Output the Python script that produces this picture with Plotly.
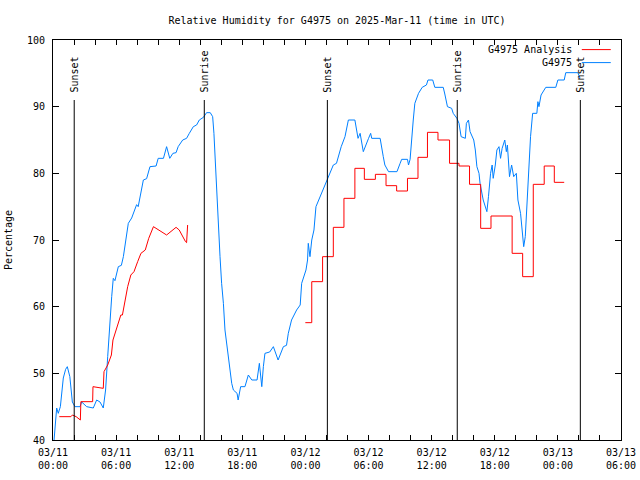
import pandas as pd
import plotly.graph_objects as go

BASE = pd.Timestamp("2025-03-11 00:00")

# G4975 observations: hours since 03/11 00:00 UTC, relative humidity (%)
obs_hours = [0.10, 0.35, 0.50, 0.70, 0.98, 1.20, 1.36, 1.60, 1.84, 2.09, 2.57, 2.73, 3.20, 3.83, 4.15, 4.47,
             4.78, 5.00, 5.20, 5.42, 5.58, 5.73, 5.89, 6.21, 6.50, 6.69, 6.94, 7.16, 7.48, 7.80, 7.95, 8.10,
             8.33, 8.59, 8.90, 9.22, 9.80, 10.00, 10.50, 10.80, 11.10, 11.40, 11.70, 11.90, 12.33, 12.70,
             12.96, 13.34, 13.65, 13.91, 14.30, 14.60, 14.95, 15.18, 15.30, 15.40, 15.56, 15.72, 15.88,
             16.03, 16.20, 16.35, 16.50, 16.67, 16.83, 16.99, 17.15, 17.50, 17.60, 17.84, 18.25, 18.57,
             18.90, 19.40, 19.62, 19.85, 20.00, 20.15, 20.60, 20.95, 21.40, 21.90, 22.20, 22.37, 22.68,
             23.16, 23.50, 23.64, 24.05, 24.20, 24.27, 24.43, 24.60, 24.81, 25.00, 25.20, 25.54, 25.86,
             26.08, 26.30, 26.65, 26.95, 27.20, 27.40, 27.76, 28.08, 28.70, 28.87, 29.00, 29.20, 29.50,
             30.00, 30.20, 30.30, 31.10, 31.40, 31.55, 31.90, 32.70, 33.00, 33.15, 33.70, 33.80, 33.95,
             34.10, 34.25, 34.40, 34.75, 35.10, 35.50, 35.65, 36.10, 36.30, 37.10, 37.25, 37.50, 37.90,
             38.05, 38.40, 38.60, 38.80, 39.20, 39.30, 39.50, 39.65, 40.00, 40.15, 40.30, 40.50, 40.60,
             40.90, 41.10, 41.25, 41.40, 41.60, 41.75, 41.85, 42.05, 42.20, 42.40, 42.55, 42.70, 42.95,
             43.10, 43.20, 43.40, 43.60, 43.80, 44.05, 44.20, 44.45, 44.60, 44.75, 44.90, 45.10, 45.25,
             45.40, 45.60, 46.00, 46.10, 46.20, 46.40, 46.85, 47.80, 48.00, 48.60, 48.75, 49.90, 50.10]
obs_values = [40.0, 44.8, 44.0, 45.0, 49.3, 50.6, 51.0, 49.5, 45.7, 45.0, 45.0, 45.7, 45.0, 44.8, 46.0, 45.7,
              44.8, 47.5, 52.5, 58.5, 61.5, 64.25, 63.9, 66.0, 66.2, 67.5, 70.0, 72.5, 73.3, 74.5, 75.3, 75.0,
              77.0, 79.0, 79.2, 81.0, 81.1, 82.25, 82.25, 84.0, 82.25, 83.0, 83.1, 84.0, 85.0, 85.25,
              86.0, 87.0, 87.25, 88.0, 88.4, 89.1, 89.1, 88.5, 86.0, 82.5, 78.5, 72.5, 67.5,
              63.5, 60.5, 56.5, 54.5, 52.5, 50.5, 48.5, 47.5, 47.0, 46.0, 48.0, 48.0, 49.75,
              49.0, 49.0, 51.5, 48.0, 51.0, 53.0, 53.2, 54.0, 52.0, 54.0, 54.2, 56.0, 58.0,
              59.5, 60.25, 63.5, 65.5, 67.0, 69.5, 67.5, 70.0, 71.5, 75.0, 75.75, 77.0, 78.25,
              79.0, 80.0, 81.25, 81.5, 83.0, 84.0, 85.5, 88.0, 88.0, 86.0, 85.25, 86.0, 83.25,
              85.25, 86.0, 85.25, 85.25, 82.5, 81.25, 80.25, 80.25, 81.5, 82.1, 82.1, 81.25, 82.1,
              84.5, 88.0, 90.5, 92.0, 92.9, 93.25, 94.0, 94.0, 92.9, 92.9, 91.9, 90.0, 89.75,
              89.0, 88.25, 87.5, 85.5, 85.25, 87.5, 88.0, 86.25, 85.0, 83.5, 81.0, 80.0, 78.5,
              76.0, 74.75, 74.25, 76.5, 80.0, 81.25, 79.25, 81.25, 83.5, 84.0, 82.25, 83.75, 85.0,
              83.25, 84.25, 79.5, 81.25, 79.5, 80.0, 76.0, 74.0, 71.5, 69.0, 70.5, 77.5, 82.5,
              85.5, 89.0, 89.0, 90.75, 90.0, 91.75, 92.9, 92.9, 94.0, 94.0, 95.1, 95.1, 94.3]

# G4975 Analysis, first run (hours, %)
ana1_hours = [0.60, 1.70, 1.85, 2.20, 2.60, 2.65, 3.77, 3.80, 4.78, 4.85, 5.20, 5.55, 5.70, 6.00, 6.30, 6.45,
              6.60, 6.90, 7.10, 7.40, 7.70, 8.05, 8.36, 8.77, 9.10, 9.55, 10.10, 10.80, 11.70, 12.00, 12.60,
              12.70, 12.80]
ana1_values = [43.5, 43.5, 43.75, 43.5, 43.0, 45.75, 45.75, 48.0, 47.75, 50.25, 51.25, 52.75, 55.0, 56.5, 58.0,
               58.75, 58.75, 61.5, 63.0, 64.75, 65.25, 66.75, 68.0, 68.5, 70.25, 72.0, 71.5, 70.75, 71.9, 71.5,
               69.75, 69.6, 72.25]

# G4975 Analysis, second run (stepped)
ana2_hours = [23.99, 24.60, 25.63, 26.65, 27.66, 28.70, 29.60, 30.65, 31.66, 32.67, 33.70, 34.70, 35.60,
              36.60, 37.70, 38.60, 39.60, 40.66, 41.64, 43.65, 44.65, 45.66, 46.70, 47.66, 48.60]
ana2_values = [57.6, 63.75, 67.5, 71.9, 76.25, 80.75, 79.1, 79.85, 78.15, 77.35, 79.25, 82.4, 86.15,
               85.0, 81.5, 81.1, 78.35, 71.75, 73.6, 68.0, 64.5, 78.35, 81.1, 78.65, 78.65]

sun_labels = ["Sunset", "Sunrise", "Sunset", "Sunrise", "Sunset"]
sun_times = ["2025-03-11 02:01", "2025-03-11 14:23", "2025-03-12 02:05", "2025-03-12 14:26", "2025-03-13 02:08"]

tick_hours = [0, 6, 12, 18, 24, 30, 36, 42, 48, 54]
tick_labels = ["03/11<br>00:00", "03/11<br>06:00", "03/11<br>12:00", "03/11<br>18:00", "03/12<br>00:00",
               "03/12<br>06:00", "03/12<br>12:00", "03/12<br>18:00", "03/13<br>00:00", "03/13<br>06:00"]


def to_time(hours):
    return [BASE + pd.Timedelta(hours=h) for h in hours]


FONT = "DejaVu Sans Mono"
BLUE = "#0080FF"
RED = "#FF0000"

fig = go.Figure()
fig.add_trace(go.Scatter(x=to_time(obs_hours), y=obs_values, mode="lines", name="G4975",
                         line=dict(color=BLUE, width=1), showlegend=False))
fig.add_trace(go.Scatter(x=to_time(ana1_hours), y=ana1_values, mode="lines", name="G4975 Analysis",
                         line=dict(color=RED, width=1), showlegend=False))
fig.add_trace(go.Scatter(x=to_time(ana2_hours), y=ana2_values, mode="lines", name="G4975 Analysis",
                         line=dict(color=RED, width=1, shape="hv"), showlegend=False))

for lbl, t in zip(sun_labels, sun_times):
    fig.add_shape(type="line", x0=t, x1=t, y0=40, y1=91.0, xref="x", yref="y",
                  line=dict(color="black", width=1))
    fig.add_annotation(x=t, y=91.85, xref="x", yref="y", text=lbl, textangle=-90, showarrow=False,
                       xanchor="center", yanchor="bottom", font=dict(family=FONT, size=10, color="black"))

# key (top right, text then line sample)
for i, (name, col) in enumerate([("G4975 Analysis", RED), ("G4975", BLUE)]):
    yk = 0.976 - i * 0.0325
    fig.add_annotation(x=0.917, y=yk, xref="paper", yref="paper", text=name, showarrow=False,
                       xanchor="right", yanchor="middle", font=dict(family=FONT, size=10, color="black"))
    fig.add_shape(type="line", x0=0.931, x1=0.982, y0=yk, y1=yk, xref="paper", yref="paper",
                  line=dict(color=col, width=1))

fig.update_layout(
    width=640, height=480,
    margin=dict(l=53, r=19, t=40, b=40, autoexpand=False),
    paper_bgcolor="white", plot_bgcolor="white",
    font=dict(family=FONT, size=10, color="black"),
    title=dict(text="Relative Humidity for G4975 on 2025-Mar-11 (time in UTC)", x=0.5, xref="paper",
               xanchor="center", y=1 - 20 / 480, yanchor="middle", yref="container",
               font=dict(family=FONT, size=10)),
    showlegend=False,
)
fig.update_xaxes(
    type="date", range=[BASE, BASE + pd.Timedelta(hours=54)], automargin=False,
    tickmode="array", tickvals=to_time(tick_hours), ticktext=tick_labels,
    ticks="inside", ticklen=5, tickcolor="black", ticklabelstandoff=3,
    minor=dict(tickmode="linear", tick0=BASE, dtick=2 * 3600 * 1000, ticks="inside", ticklen=5,
               tickcolor="black", showgrid=False),
    showline=True, linecolor="black", linewidth=1, mirror="allticks",
    showgrid=False, zeroline=False, tickfont=dict(family=FONT, size=10),
)
fig.update_yaxes(
    range=[40, 100], tickmode="linear", tick0=40, dtick=10, automargin=False,
    ticks="inside", ticklen=6, tickcolor="black", ticklabelstandoff=5,
    showline=True, linecolor="black", linewidth=1, mirror="allticks",
    showgrid=False, zeroline=False, tickfont=dict(family=FONT, size=10),
    title=dict(text="Percentage", font=dict(family=FONT, size=10), standoff=12),
)

fig.write_html("out.html", config={"displayModeBar": False},
               post_script="document.body.style.margin='0px';")
